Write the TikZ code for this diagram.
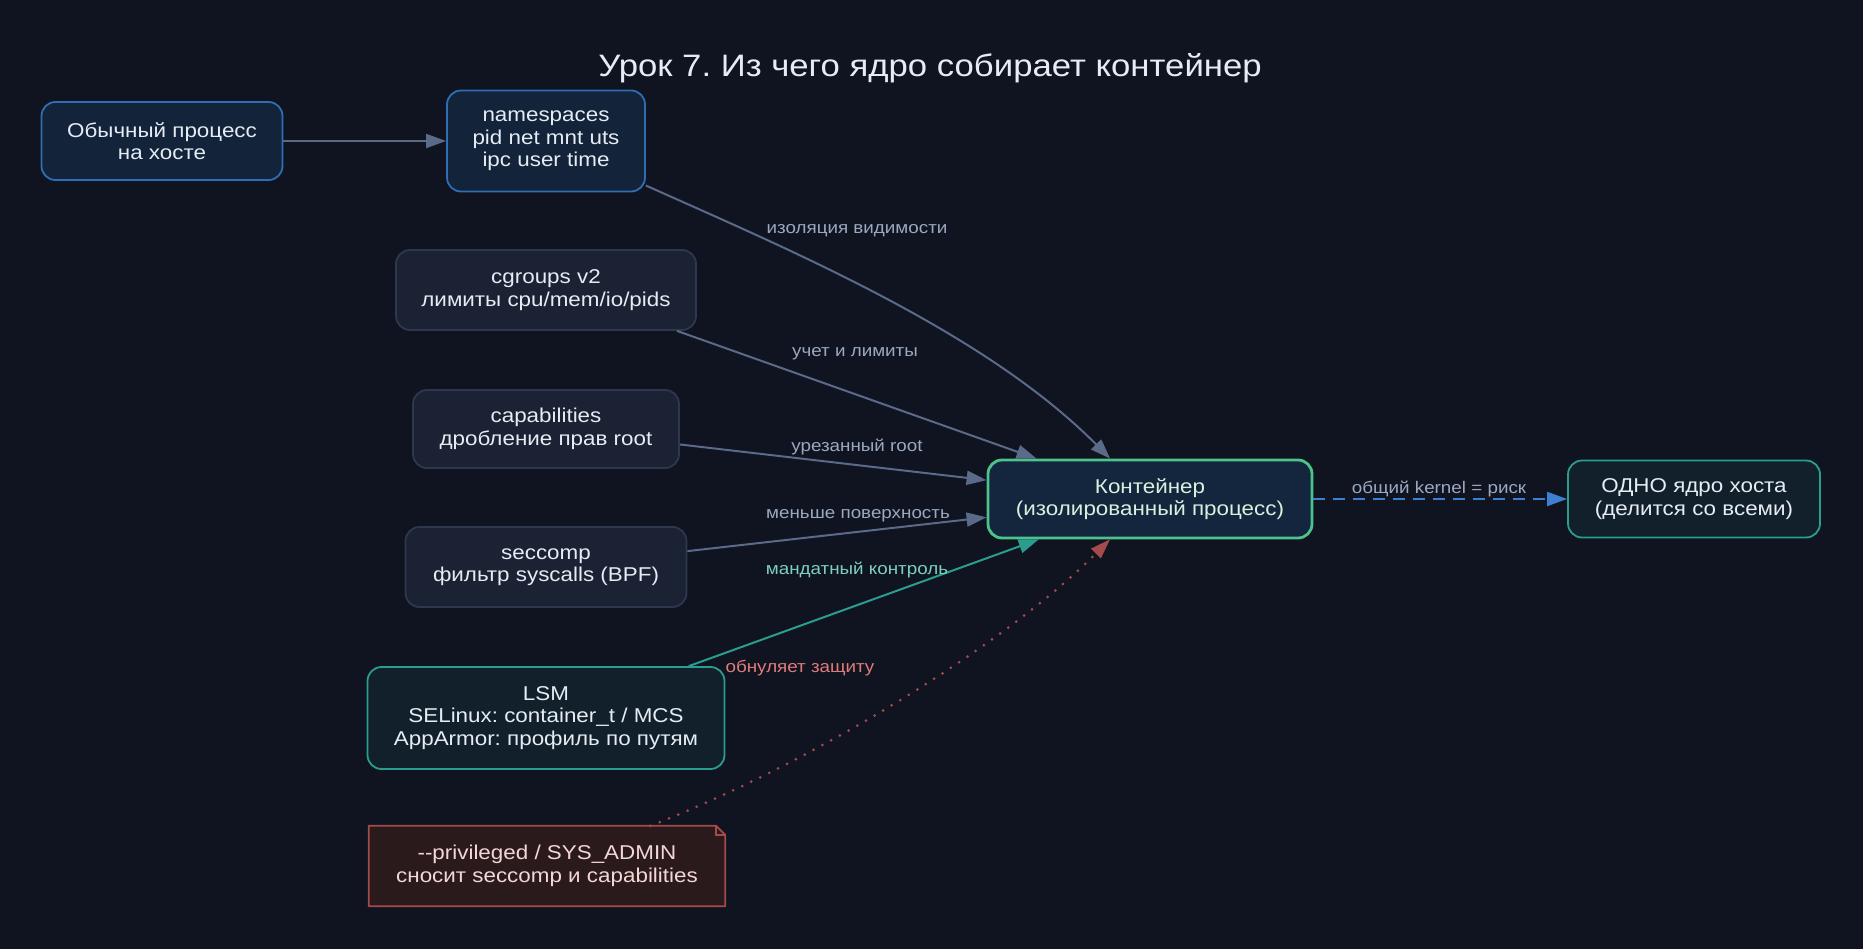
\documentclass[tikz,border=0pt]{standalone}
\usepackage{fontspec}
\setmainfont{Liberation Sans}[FakeStretch=1.12]
\usetikzlibrary{arrows.meta, positioning, backgrounds}

\definecolor{bg}{HTML}{0F1420}
\definecolor{txt}{HTML}{E6ECF4}
\definecolor{bluefill}{HTML}{12233A}
\definecolor{blueline}{HTML}{2F6DB5}
\definecolor{grayfill}{HTML}{1B2234}
\definecolor{grayline}{HTML}{2D3850}
\definecolor{contfill}{HTML}{13263D}
\definecolor{contline}{HTML}{4CC38A}
\definecolor{conttxt}{HTML}{D6F2DF}
\definecolor{tealfill}{HTML}{11202A}
\definecolor{tealline}{HTML}{2A9D8F}
\definecolor{teallbl}{HTML}{7DCFC0}
\definecolor{notefill}{HTML}{2A1A1C}
\definecolor{noteline}{HTML}{A54B4B}
\definecolor{notetxt}{HTML}{F4D6D6}
\definecolor{redlbl}{HTML}{E07B7B}
\definecolor{edgegray}{HTML}{5A6A88}
\definecolor{lblgray}{HTML}{9AA8C0}
\definecolor{dashblue}{HTML}{3D7FD0}

\begin{document}
\frenchspacing
\begin{tikzpicture}[
        x=1pt, y=-1pt,
        box/.style={rounded corners=14pt, draw, line width=1.8pt, align=center,
            inner sep=0pt, text=txt, font=\fontsize{20}{22.6}\selectfont},
        bluebox/.style={box, fill=bluefill, draw=blueline},
        graybox/.style={box, fill=grayfill, draw=grayline},
        tealbox/.style={box, fill=tealfill, draw=tealline},
        arrow/.style={-{Triangle[length=20pt, width=14pt]}, line width=2pt, edgegray},
        lbl/.style={font=\fontsize{16.8}{18}\selectfont, text=lblgray, inner sep=1pt}
    ]

    \tikzset{
    contbox/.style={box, fill=contfill, draw=contline, line width=2.8pt, text=conttxt},
    notebox/.style={align=center, inner sep=0pt, text=notetxt,
        font=\fontsize{20}{22.6}\selectfont, minimum width=356pt, minimum height=80pt},
    teal/.style={arrow, tealline},
    danger/.style={arrow, noteline, line width=3pt, line cap=round, dash pattern=on 0pt off 10pt,
        -{Triangle[length=20pt, width=14pt, line cap=butt, line width=0pt]}},
    shared/.style={arrow, dashblue, dash pattern=on 12pt off 8pt}
}

    \useasboundingbox (0,0) rectangle (1863,949);

    \node[font=\fontsize{31}{36}\selectfont, text=txt] (title) at (930,68)
        {Урок 7. Из чего ядро собирает контейнер};

    \node[bluebox, minimum width=241pt, minimum height=78pt] (host) at (162,141)
        {Обычный процесс\\на хосте};
    \node[bluebox, minimum width=198pt, minimum height=101pt] (ns) at (546,141)
        {namespaces\\pid net mnt uts\\ipc user time};
    \node[graybox, minimum width=300pt, minimum height=80pt] (cg) at (546,290)
        {cgroups v2\\лимиты cpu/mem/io/pids};
    \node[graybox, minimum width=266pt, minimum height=78pt] (caps) at (546,429)
        {capabilities\\дробление прав root};
    \node[graybox, minimum width=281pt, minimum height=80pt] (sc) at (546,567)
        {seccomp\\фильтр syscalls (BPF)};
    \node[tealbox, minimum width=357pt, minimum height=102pt] (lsm) at (546,718)
        {LSM\\SELinux: container\_t / MCS\\AppArmor: профиль по путям};
    \node[notebox] (priv) at (547,866)
        {-{}-privileged / SYS\_ADMIN\\сносит seccomp и capabilities};

    \node[contbox, minimum width=324pt, minimum height=78pt] (cont) at (1150,499)
        {Контейнер\\(изолированный процесс)};
    \node[tealbox, minimum width=252pt, minimum height=77pt] (kern) at (1694,499)
        {ОДНО ядро хоста\\(делится со всеми)};

    % note shape with folded corner
    \begin{pgfonlayer}{background}
    \fill[bg] (0,0) rectangle (1863,949);
    \path[fill=notefill, draw=noteline, line width=1.8pt, line join=round]
        (priv.north west) -- ([xshift=-9pt]priv.north east) -- ([yshift=-9pt]priv.north east)
        -- (priv.south east) -- (priv.south west) -- cycle;
    \draw[noteline, line width=1.8pt] ([xshift=-9pt]priv.north east)
        -- ([xshift=-9pt, yshift=-9pt]priv.north east) -- ([yshift=-9pt]priv.north east);
    \end{pgfonlayer}

    \draw[arrow] (host) -- (ns);
    \draw[arrow] (ns) .. controls (790,250) and (985,332) .. (cont);
    \draw[arrow] ([xshift=131pt]cg.south) -- (cont);
    \draw[arrow] (caps) -- (cont);
    \draw[arrow] (sc) -- (cont);
    \draw[teal] (lsm) -- (cont);
    \draw[danger] (priv) .. controls (820,760) and (1010,640) .. (cont);
    \draw[shared] (cont) -- (kern);

    \node[lbl] (l1) at (857,231) {изоляция видимости};
    \node[lbl] (l2) at (855,354) {учет и лимиты};
    \node[lbl] (l3) at (857,447) {урезанный root};
    \node[lbl] (l4) at (858,516) {меньше поверхность};
    \node[lbl, text=teallbl] (l5) at (857,570) {мандатный контроль};
    \node[lbl, text=redlbl] (l6) at (800,668) {обнуляет защиту};
    \node[lbl] (l7) at (1439,489) {общий kernel = риск};
    \end{tikzpicture}
\end{document}
